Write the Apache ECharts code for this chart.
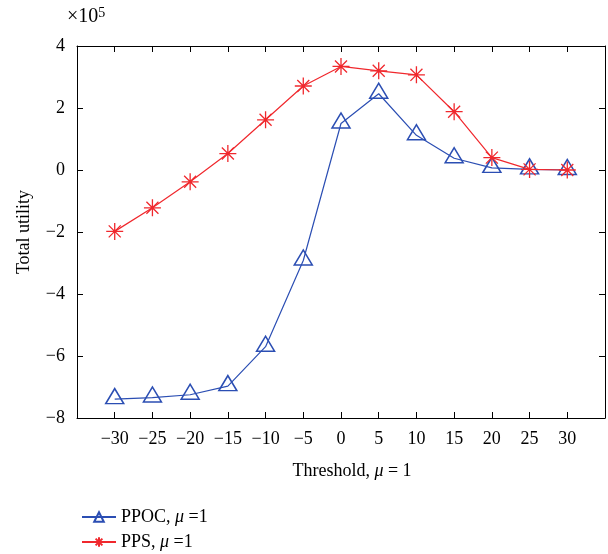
<!DOCTYPE html>
<html>
<head>
<meta charset="utf-8">
<script src="https://cdn.jsdelivr.net/npm/echarts@6/dist/echarts.min.js"></script>
<style>html,body{margin:0;padding:0;background:#fff}#c{width:608px;height:554px}</style>
</head>
<body>
<div id="c"></div>
<script>
// thresholds (x), values in units of 1e5
const thresholds = [-30, -25, -20, -15, -10, -5, 0, 5, 10, 15, 20, 25, 30];
const ppoc = [-7.39, -7.34, -7.25, -6.97, -5.7, -2.92, 1.5, 2.46, 1.12, 0.38, 0.07, 0.02, 0.0];
const pps = [-1.98, -1.22, -0.38, 0.53, 1.62, 2.71, 3.34, 3.2, 3.07, 1.88, 0.4, 0.02, 0.0];
const yTicks = [-8, -6, -4, -2, 0, 2, 4];
const seriesNames = ['PPOC, μ =1', 'PPS, μ =1'];

const FONT = 'Liberation Serif';
const minus = v => (v < 0 ? '\u2212' + Math.abs(v) : String(v));
const star = 'path://M0,-10L0,10M-10,0L10,0M-7.07,-7.07L7.07,7.07M-7.07,7.07L7.07,-7.07';
const blue = '#2b4eb3';
const red = '#f0282d';

const chart = echarts.init(document.getElementById('c'), null, {renderer: 'canvas'});
const axisLine = {show: true, onZero: false, lineStyle: {color: '#000', width: 1}};
const tick = {show: true, inside: true, length: 6, lineStyle: {color: '#000'}};
const labelStyle = {color: '#000', fontFamily: FONT, fontSize: 18};
const legendText = {color: '#000', fontFamily: FONT, fontSize: 18,
  rich: {i: {fontStyle: 'italic', fontFamily: FONT, fontSize: 18}}};
const legendCommon = {left: 76, itemWidth: 34, itemHeight: 12,
  formatter: n => n.replace('μ', '{i|μ}'), textStyle: legendText};

chart.setOption({
  animation: false,
  backgroundColor: '#fff',
  grid: {left: 77, right: 3, top: 46, bottom: 136, containLabel: false},
  legend: [
    Object.assign({top: 503, data: [seriesNames[0]]}, legendCommon),
    Object.assign({top: 528, data: [seriesNames[1]]}, legendCommon)
  ],
  graphic: [{
    type: 'text', left: 67, top: 6,
    style: {text: '×10{s|5}', fill: '#000', font: '20px "Liberation Serif"',
      rich: {s: {fontSize: 14, fontFamily: FONT, verticalAlign: 'top', padding: [0, 0, 8, 0]}}}
  }],
  xAxis: [{
    type: 'value', position: 'bottom', min: -35, max: 35, interval: 5,
    axisLine, axisTick: tick, splitLine: {show: false},
    axisLabel: Object.assign({margin: 12, formatter: v => (Math.abs(v) > 30 ? '' : minus(v))}, labelStyle),
    name: 'Threshold, {i|μ} = 1', nameLocation: 'middle', nameGap: 44,
    nameTextStyle: {color: '#000', fontFamily: FONT, fontSize: 18, padding: [0, 0, 0, 22],
      rich: {i: {fontStyle: 'italic', fontFamily: FONT, fontSize: 18}}}
  }, {
    type: 'value', position: 'top', min: -35, max: 35, interval: 5,
    axisLine, axisTick: tick, axisLabel: {show: false}, splitLine: {show: false}
  }],
  yAxis: [{
    type: 'value', position: 'left', min: yTicks[0], max: yTicks[yTicks.length - 1], interval: 2,
    axisLine, axisTick: tick, splitLine: {show: false},
    axisLabel: Object.assign({margin: 12, formatter: v => minus(v)}, labelStyle),
    name: 'Total utility', nameLocation: 'middle', nameGap: 44, nameRotate: 90,
    nameTextStyle: {color: '#000', fontFamily: FONT, fontSize: 18}
  }, {
    type: 'value', position: 'right', min: yTicks[0], max: yTicks[yTicks.length - 1], interval: 2,
    axisLine, axisTick: tick, axisLabel: {show: false}, splitLine: {show: false}
  }],
  series: [{
    name: seriesNames[0], type: 'line',
    data: thresholds.map((t, i) => [t, ppoc[i]]),
    symbol: 'triangle', symbolSize: [18, 15], symbolOffset: [0, -3],
    lineStyle: {color: blue, width: 1.2},
    itemStyle: {color: 'rgba(255,255,255,0)', borderColor: blue, borderWidth: 1.5},
    z: 2
  }, {
    name: seriesNames[1], type: 'line',
    data: thresholds.map((t, i) => [t, pps[i]]),
    symbol: star, symbolSize: 17,
    lineStyle: {color: red, width: 1.2},
    itemStyle: {color: red, borderColor: red, borderWidth: 1.3},
    z: 3
  }]
});
</script>
</body>
</html>
